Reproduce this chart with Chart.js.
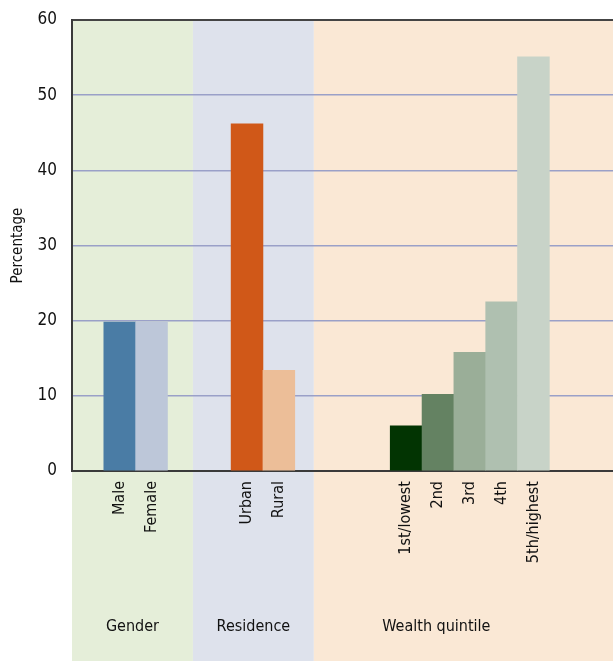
<!DOCTYPE html>
<html>
<head>
<meta charset="utf-8">
<script src="https://cdn.jsdelivr.net/npm/chart.js@4.4.1/dist/chart.umd.min.js"></script>
<style>
  html, body { margin: 0; padding: 0; background: #fff; }
  canvas { display: block; }
</style>
</head>
<body>
<canvas id="grafico" width="613" height="661"></canvas>
<script>
// Datos por grupo
const gender = ['Male', 'Female'];
const genderValues = [19.8, 19.8];
const residence = ['Urban', 'Rural'];
const residenceValues = [46.2, 13.4];
const wealth = ['1st/lowest', '2nd', '3rd', '4th', '5th/highest'];
const wealthValues = [6.0, 10.2, 15.8, 22.5, 55.1];
const groupNames = ['Gender', 'Residence', 'Wealth quintile'];
const yTicks = [0, 10, 20, 30, 40, 50, 60];

const genderColors = ['#4a7ca5', '#bdc7d9'];
const residenceColors = ['#d05818', '#ecbe98'];
const wealthColors = ['#023402', '#648262', '#9aae98', '#afc0b0', '#c8d3c8'];
const bandColors = ['#e5eed9', '#dee2ec', '#fae8d5'];

const fuente = "'DejaVu Sans Condensed', 'DejaVu Sans', sans-serif";

// Armamos las categorias con espacios vacios entre grupos
const labels = [];
const values = [];
const colors = [];
const huecos = [1, 2, 3, 2];

const agregarHueco = (n) => {
    for (let i = 0; i < n; i++) {
        labels.push('');
        values.push(null);
        colors.push('transparent');
    }
};
const agregarGrupo = (cats, vals, cols) => {
    cats.forEach((c, i) => {
        labels.push(c);
        values.push(vals[i]);
        colors.push(cols[i]);
    });
};

agregarHueco(huecos[0]);
agregarGrupo(gender, genderValues, genderColors);
agregarHueco(huecos[1]);
agregarGrupo(residence, residenceValues, residenceColors);
agregarHueco(huecos[2]);
agregarGrupo(wealth, wealthValues, wealthColors);
agregarHueco(huecos[3]);

// Franjas de fondo y nombres de grupo
const bandas = {
    id: 'bandas',
    beforeDraw(chart, args, opts) {
        const { ctx, chartArea, scales: { x } } = chart;
        const bordes = [chartArea.left, ...opts.cortes.map(v => x.getPixelForValue(v)), chart.width];
        ctx.save();
        bandColors.forEach((c, i) => {
            ctx.fillStyle = c;
            ctx.fillRect(bordes[i], chartArea.top, bordes[i + 1] - bordes[i], chart.height - chartArea.top);
        });
        ctx.restore();
    },
    afterDraw(chart, args, opts) {
        const { ctx, scales: { x } } = chart;
        ctx.save();
        ctx.fillStyle = '#111';
        ctx.font = '16px ' + fuente;
        ctx.textAlign = 'center';
        ctx.textBaseline = 'middle';
        groupNames.forEach((g, i) => {
            ctx.fillText(g, x.getPixelForValue(opts.centros[i]), opts.y);
        });
        ctx.restore();
    }
};

const grafico = document.getElementById('grafico');

const migrafica = new Chart(grafico, {
    type: 'bar',
    data: {
        labels,
        datasets: [{
            data: values,
            backgroundColor: colors,
            borderWidth: 0,
            barPercentage: 1,
            categoryPercentage: 1
        }]
    },
    options: {
        responsive: false,
        devicePixelRatio: 1,
        animation: false,
        layout: { padding: { top: 20, left: 0, right: 0, bottom: 0 } },
        plugins: {
            legend: { display: false },
            tooltip: { enabled: false },
            bandas: { cortes: [3.3, 7.1], centros: [1.4, 5.2, 10.95], y: 627 }
        },
        scales: {
            x: {
                grid: { display: false, drawTicks: false },
                border: { display: true, color: '#3a3a3a', width: 2 },
                ticks: {
                    autoSkip: false,
                    maxRotation: 90,
                    minRotation: 90,
                    padding: 10,
                    color: '#111',
                    font: { family: fuente, size: 16 }
                },
                afterFit: (s) => {
                    s.height = 190;
                    s.paddingLeft = 0;
                    s.paddingRight = 0;
                }
            },
            y: {
                min: 0,
                max: 60,
                afterBuildTicks: (axis) => {
                    axis.ticks = yTicks.map(v => ({ value: v }));
                },
                grid: {
                    drawTicks: false,
                    color: (c) => (c.tick && (c.tick.value === 60 || c.tick.value === 0)) ? '#444' : '#9aa0c8',
                    lineWidth: (c) => (c.tick && c.tick.value === 60) ? 2 : 1.5
                },
                border: { display: true, color: '#3a3a3a', width: 2 },
                ticks: {
                    padding: 15,
                    color: '#111',
                    font: { family: fuente, size: 17 }
                },
                title: {
                    display: true,
                    text: 'Percentage',
                    color: '#111',
                    font: { family: fuente, size: 15 },
                    padding: { top: 9, bottom: 0 }
                },
                afterFit: (s) => {
                    s.width = 72;
                    s.paddingTop = 0;
                    s.paddingBottom = 0;
                }
            }
        }
    },
    plugins: [bandas]
});
</script>
</body>
</html>
